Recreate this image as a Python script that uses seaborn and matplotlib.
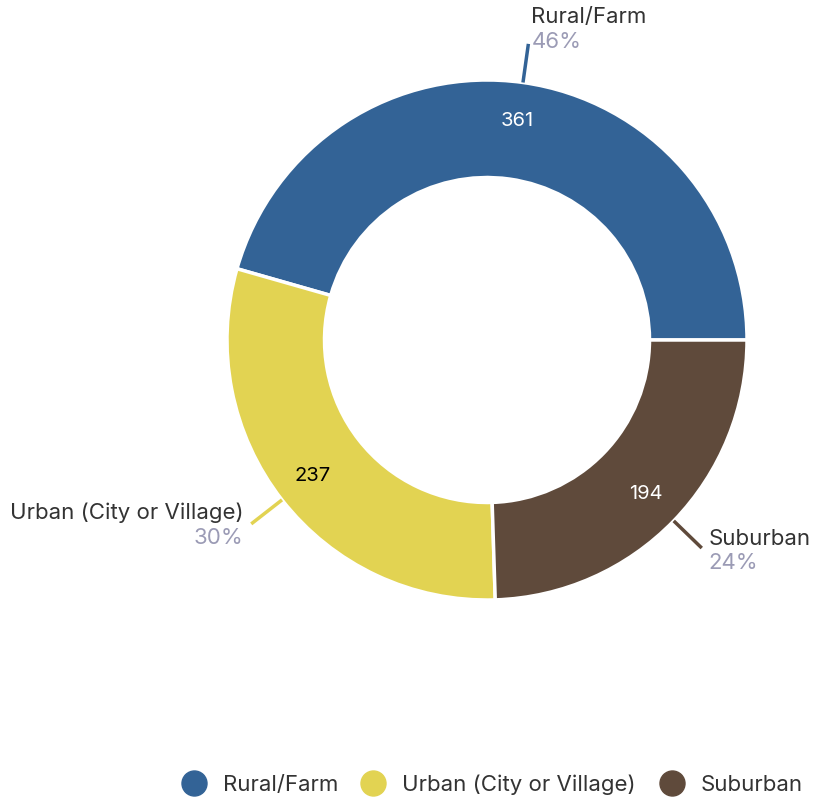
import numpy as np
import matplotlib
matplotlib.use("Agg")
import matplotlib.pyplot as plt
import seaborn as sns
from matplotlib.lines import Line2D

categories = ["Rural/Farm", "Urban (City or Village)", "Suburban"]
counts = [361, 237, 194]
colors = ["#336396", "#e2d352", "#5f4a3b"]
value_text_colors = ["white", "black", "white"]

sns.set_theme(style="white")
plt.rcParams["font.family"] = ["Inter", "DejaVu Sans"]

W, H = 814, 799
cx, cy, R = 487, 340, 260

fig = plt.figure(figsize=(W / 100, H / 100), dpi=100)
ax = fig.add_axes([0, 0, 1, 1])

palette = sns.color_palette(colors)
wedges, _ = ax.pie(
    counts,
    startangle=0,
    counterclock=True,
    colors=palette,
    radius=1.0,
    wedgeprops=dict(width=0.375, edgecolor="white", linewidth=2.5),
)
ax.set_xlim(-cx / R, (W - cx) / R)
ax.set_ylim(-(H - cy) / R, cy / R)
ax.set_aspect("auto")
ax.axis("off")

total = sum(counts)
pct_color = "#9b9bb5"
for w, name, val, tc in zip(wedges, categories, counts, value_text_colors):
    mid = np.deg2rad((w.theta1 + w.theta2) / 2)
    c, s = np.cos(mid), np.sin(mid)
    # value inside the ring
    ax.text(0.85 * c, 0.85 * s, str(val), ha="center", va="center",
            color=tc, fontsize=14.5)
    # leader line
    r_out = 1.15
    ax.plot([1.0 * c, r_out * c], [1.0 * s, r_out * s], color=w.get_facecolor(),
            lw=2.5, solid_capstyle="butt")
    ex, ey = r_out * c, r_out * s
    pct = f"{round(val / total * 100)}%"
    if s > 0.5:
        ha = "left"
        dx = 3 / R
        name_y, pct_y = ey + 27 / R, ey + 2 / R
    elif c < 0:
        ha = "right"
        dx = -8 / R
        name_y, pct_y = ey + 11 / R, ey - 14 / R
    else:
        ha = "left"
        dx = 7 / R
        name_y, pct_y = ey + 9 / R, ey - 15 / R
    ax.text(ex + dx, name_y, name, ha=ha, va="center", color="#333333", fontsize=16)
    ax.text(ex + dx, pct_y, pct, ha=ha, va="center", color=pct_color, fontsize=16)

handles = [Line2D([0], [0], marker="o", linestyle="", markersize=18,
                  markerfacecolor=col, markeredgecolor=col) for col in colors]
fig.legend(handles, categories, loc="center", bbox_to_anchor=(487 / W, 1 - 785 / H),
           ncol=3, frameon=False, fontsize=16, handletextpad=0.3, columnspacing=0.6,
           labelcolor="#333333")

fig.savefig("out.png", dpi=100)
